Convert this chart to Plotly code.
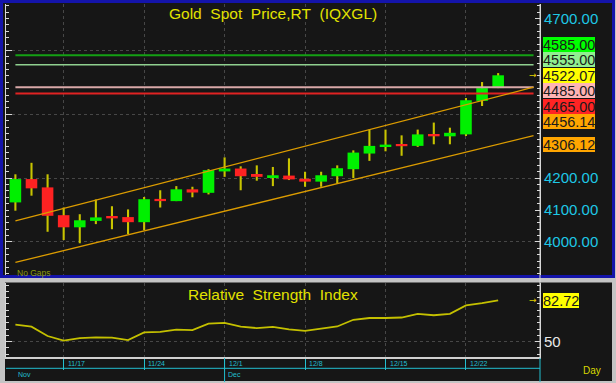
import plotly.graph_objects as go

W, H = 616, 383

# ---------------- data ----------------
dates = ["11/12", "11/13", "11/14", "11/17", "11/18", "11/19", "11/20", "11/21",
         "11/24", "11/25", "11/26", "11/27", "11/28",
         "12/1", "12/2", "12/3", "12/4", "12/5",
         "12/8", "12/9", "12/10", "12/11", "12/12",
         "12/15", "12/16", "12/17", "12/18", "12/19",
         "12/22", "12/23", "12/24"]
opens = [4124, 4197, 4171, 4084, 4046, 4066, 4080, 4078,
         4062, 4135, 4128, 4165, 4154,
         4221, 4230, 4210, 4203, 4208,
         4198, 4189, 4206, 4228, 4277,
         4299, 4306, 4301, 4337, 4331,
         4337, 4442, 4482]
highs = [4212, 4248, 4212, 4108, 4087, 4133, 4112, 4102,
         4141, 4162, 4175, 4173, 4228,
         4265, 4237, 4240, 4235, 4262,
         4220, 4220, 4240, 4287, 4352,
         4352, 4334, 4352, 4374, 4358,
         4451, 4501, 4529]
lows = [4098, 4145, 4032, 4006, 3996, 4056, 4040, 4025,
        4037, 4108, 4128, 4140, 4149,
        4204, 4162, 4192, 4175, 4194,
        4173, 4173, 4183, 4200, 4254,
        4284, 4270, 4298, 4306, 4306,
        4332, 4426, 4482]
closes = [4197, 4168, 4082, 4046, 4068, 4077, 4074, 4062,
          4134, 4128, 4165, 4155, 4225,
          4230, 4206, 4204, 4209, 4196,
          4189, 4209, 4231, 4280, 4301,
          4305, 4300, 4337, 4331, 4342,
          4444, 4482, 4522.07]
rsi = [63.5, 61.9, 54.5, 50.9, 52.9, 53.5, 53.3, 51.3,
       57.4, 57.8, 59.6, 59.2, 64.3,
       64.9, 61.9, 60.8, 61.8, 59.7,
       58.6, 60.4, 62.1, 67.4, 68.8,
       68.8, 69.2, 72.1, 71.0, 72.1,
       78.8, 80.6, 82.72]

week_labels = ["11/17", "11/24", "12/1", "12/8", "12/15", "12/22"]
month_labels = ["Nov", "Dec"]
month_starts = [None, "12/1"]

price_tick_labels = [4000, 4100, 4200, 4700]
rsi_tick_labels = [50]

level_values = [4585.00, 4555.00, 4485.00, 4465.00]
level_line_colors = ["#14a014", "#8fd08f", "#d8a8a8", "#e02222"]
level_line_widths = [2, 1.5, 2, 2]
level_label_bg = ["#00ff00", "#90ee90", "#ffb4b4", "#ff2424"]

channel_upper = [4066.0, 4456.14]   # at first and last candle
channel_lower = [3936.0, 4306.12]

title_text = "Gold\u00a0 Spot\u00a0 Price,RT\u00a0 (IQXGL)"
rsi_title = "Relative\u00a0 Strength\u00a0 Index"

# ---------------- geometry (pixels) ----------------
PX0, PX1 = 6, 540
TOP_Y0, TOP_Y1 = 4, 275
RSI_Y0, RSI_Y1 = 283, 357
X_RANGE = [-0.584, 32.6]
PRICE_RANGE = [3896.6, 4745.4]
RSI_RANGE = [37.85, 96.6]
EXT = 2.2  # extension of drawn lines past last candle (index units)

def fx(p):
    return p / W

def fy(p):
    return 1 - p / H

def price_px(v):
    return TOP_Y0 + (PRICE_RANGE[1] - v) / (PRICE_RANGE[1] - PRICE_RANGE[0]) * (TOP_Y1 - TOP_Y0)

def rsi_px(v):
    return RSI_Y0 + (RSI_RANGE[1] - v) / (RSI_RANGE[1] - RSI_RANGE[0]) * (RSI_Y1 - RSI_Y0)

FONT = "Liberation Sans, Arial, sans-serif"
BG = "#161616"
GRID = "#474747"
CYAN = "#1ec8e6"
DATE_CYAN = "#22bfd0"
YEL = "#e2e200"
WICK = "#c8c400"
GREEN = "#00f000"
RED = "#ff2222"
ORANGE = "#dc9c00"
TICKC = "#d8d8d8"

idx = list(range(len(dates)))
n_last = idx[-1]
week_idx = [dates.index(w) for w in week_labels]

fig = go.Figure()

# wicks
fig.add_trace(go.Bar(x=idx, y=[h - l for h, l in zip(highs, lows)], base=lows,
                     width=0.13, marker=dict(color=WICK, line=dict(width=0)),
                     showlegend=False, hoverinfo="skip", xaxis="x", yaxis="y"))
# bodies
fig.add_trace(go.Bar(x=idx, y=[c - o for o, c in zip(opens, closes)], base=opens,
                     width=0.72,
                     marker=dict(color=[GREEN if c >= o else RED for o, c in zip(opens, closes)],
                                 line=dict(width=0)),
                     showlegend=False, hoverinfo="skip", xaxis="x", yaxis="y"))

# horizontal levels
for v, c, w in zip(level_values, level_line_colors, level_line_widths):
    fig.add_trace(go.Scatter(x=[idx[0], n_last + EXT], y=[v, v], mode="lines",
                             line=dict(color=c, width=w), showlegend=False,
                             hoverinfo="skip", xaxis="x", yaxis="y"))

# channel lines
for ch in (channel_upper, channel_lower):
    slope = (ch[1] - ch[0]) / (n_last - idx[0])
    fig.add_trace(go.Scatter(x=[idx[0], n_last + EXT], y=[ch[0], ch[1] + slope * EXT],
                             mode="lines", line=dict(color=ORANGE, width=1.3),
                             showlegend=False, hoverinfo="skip", xaxis="x", yaxis="y"))

# dummy traces for overlay axes
fig.add_trace(go.Scatter(x=[None], y=[None], xaxis="x", yaxis="y3", showlegend=False, hoverinfo="skip"))
fig.add_trace(go.Scatter(x=[None], y=[None], xaxis="x2", yaxis="y4", showlegend=False, hoverinfo="skip"))

# RSI
fig.add_trace(go.Scatter(x=idx, y=rsi, mode="lines", line=dict(color="#c4c000", width=1.8),
                         showlegend=False, hoverinfo="skip", xaxis="x2", yaxis="y2"))

xdom = [fx(PX0), fx(PX1)]
top_dom = [fy(TOP_Y1), fy(TOP_Y0)]
rsi_dom = [fy(RSI_Y1), fy(RSI_Y0)]

fig.update_layout(
    width=W, height=H, margin=dict(l=0, r=0, t=0, b=0),
    paper_bgcolor="#c4c4c4", plot_bgcolor="rgba(0,0,0,0)",
    barmode="overlay", showlegend=False,
    font=dict(family=FONT),
    xaxis=dict(domain=xdom, range=X_RANGE, anchor="y", tickvals=week_idx,
               showgrid=True, gridcolor=GRID, griddash="dot", gridwidth=1,
               ticks="", showticklabels=False, showline=False, zeroline=False),
    yaxis=dict(domain=top_dom, range=PRICE_RANGE, anchor="x", side="right",
               tickvals=price_tick_labels, tickformat=".2f", ticks="inside", ticklen=5,
               tickcolor=TICKC, tickwidth=1,
               tickfont=dict(size=15, color=CYAN, family=FONT),
               showline=True, linecolor=TICKC, linewidth=1, showgrid=False, zeroline=False,
               minor=dict(dtick=20, tick0=0, ticks="inside", ticklen=3, tickcolor=TICKC, showgrid=False)),
    yaxis3=dict(range=PRICE_RANGE, overlaying="y", anchor="x", side="left",
                dtick=200, tick0=0, ticks="inside", ticklen=6, tickcolor=TICKC,
                showticklabels=False, showline=True, linecolor=TICKC, linewidth=1,
                showgrid=True, gridcolor=GRID, griddash="dot", zeroline=False,
                minor=dict(dtick=20, ticks="inside", ticklen=3, tickcolor=TICKC, showgrid=False)),
    xaxis2=dict(domain=xdom, range=X_RANGE, anchor="y2", tickvals=week_idx,
                showgrid=True, gridcolor=GRID, griddash="dot",
                ticks="outside", ticklen=11, tickcolor=DATE_CYAN, tickwidth=1,
                showticklabels=False, showline=True, linecolor="#d0d0d0", linewidth=2,
                zeroline=False),
    yaxis2=dict(domain=rsi_dom, range=RSI_RANGE, anchor="x2", side="right",
                tickvals=rsi_tick_labels, ticks="inside", ticklen=5, tickcolor=TICKC,
                tickfont=dict(size=15, color="#e8e8e8", family=FONT),
                showline=True, linecolor=TICKC, linewidth=1, showgrid=False, zeroline=False,
                minor=dict(dtick=5, tick0=0, ticks="inside", ticklen=3, tickcolor=TICKC, showgrid=False)),
    yaxis4=dict(range=RSI_RANGE, overlaying="y2", anchor="x2", side="left",
                dtick=50, tick0=0, ticks="inside", ticklen=6, tickcolor=TICKC,
                showticklabels=False, showline=True, linecolor=TICKC, linewidth=1,
                showgrid=True, gridcolor=GRID, griddash="dot", zeroline=False,
                minor=dict(dtick=5, ticks="inside", ticklen=3, tickcolor=TICKC, showgrid=False)),
)

shapes = []
# panels
shapes.append(dict(type="rect", xref="paper", yref="paper", x0=fx(1.5), x1=fx(613.5),
                   y0=fy(276.5), y1=fy(1.5), fillcolor=BG, line=dict(color="#1414aa", width=3),
                   layer="below"))
shapes.append(dict(type="rect", xref="paper", yref="paper", x0=fx(5), x1=fx(612),
                   y0=fy(381), y1=fy(282.5), fillcolor=BG, line=dict(width=0), layer="below"))
# right axis separator
shapes.append(dict(type="line", xref="paper", yref="paper", x0=fx(PX1), x1=fx(PX1),
                   y0=fy(RSI_Y1), y1=fy(4), line=dict(color=TICKC, width=1)))
shapes.append(dict(type="line", xref="paper", yref="paper", x0=fx(PX1), x1=fx(PX1),
                   y0=fy(382), y1=fy(RSI_Y1 + 1), line=dict(color=DATE_CYAN, width=1)))
# date band horizontal line
shapes.append(dict(type="line", xref="paper", yref="paper", x0=fx(PX0), x1=fx(PX1),
                   y0=fy(368.3), y1=fy(368.3), line=dict(color=DATE_CYAN, width=1)))
# month boundary lines
for m, s in zip(month_labels, month_starts):
    if s is not None:
        shapes.append(dict(type="line", xref="x2", yref="paper", x0=dates.index(s), x1=dates.index(s),
                           y0=fy(382), y1=fy(RSI_Y1 + 1), line=dict(color=DATE_CYAN, width=1)))
fig.update_layout(shapes=shapes)

ann = []
ann.append(dict(text=title_text, xref="paper", yref="paper", x=fx(273), y=fy(13),
                xanchor="center", yanchor="middle", showarrow=False,
                font=dict(size=15.5, color=YEL, family=FONT)))
ann.append(dict(text=rsi_title, xref="paper", yref="paper", x=fx(272.5), y=fy(294),
                xanchor="center", yanchor="middle", showarrow=False,
                font=dict(size=15.5, color=YEL, family=FONT)))
ann.append(dict(text="No Gaps", xref="paper", yref="paper", x=fx(15), y=fy(272.5),
                xanchor="left", yanchor="middle", showarrow=False,
                font=dict(size=8.5, color="#8a9a10", family=FONT)))
ann.append(dict(text="Day", xref="paper", yref="paper", x=fx(592), y=fy(370.5),
                xanchor="center", yanchor="middle", showarrow=False,
                font=dict(size=10, color="#d8d800", family=FONT)))

# week labels
for w, i in zip(week_labels, week_idx):
    ann.append(dict(text=w, xref="x2", yref="paper", x=i, y=fy(363.3), xshift=2,
                    xanchor="left", yanchor="middle", showarrow=False,
                    font=dict(size=7, color=DATE_CYAN, family=FONT)))
# month labels
for m, s in zip(month_labels, month_starts):
    if s is None:
        ann.append(dict(text=m, xref="paper", yref="paper", x=fx(PX0 + 10), y=fy(374.5),
                        xanchor="left", yanchor="middle", showarrow=False,
                        font=dict(size=7, color=DATE_CYAN, family=FONT)))
    else:
        ann.append(dict(text=m, xref="x2", yref="paper", x=dates.index(s), y=fy(374.5), xshift=1,
                        xanchor="left", yanchor="middle", showarrow=False,
                        font=dict(size=7, color=DATE_CYAN, family=FONT)))

# right-side price labels, stacked around the last close
labels = [(v, bg) for v, bg in zip(level_values, level_label_bg)]
labels.append((closes[-1], "#ffff00"))
labels.append((channel_upper[1], "#ffa500"))
labels.append((channel_lower[1], "#ffa500"))
labels.sort(key=lambda t: -t[0])
anchor_i = [t[0] for t in labels].index(closes[-1])
GAP = 15.5
pos = [price_px(v) for v, _ in labels]
for i in range(anchor_i - 1, -1, -1):
    pos[i] = min(pos[i], pos[i + 1] - GAP)
for i in range(anchor_i + 1, len(labels)):
    pos[i] = max(pos[i], pos[i - 1] + GAP)
for (v, bg), p in zip(labels, pos):
    ann.append(dict(text=f"{v:.2f}", xref="paper", yref="paper", x=fx(543), y=fy(p),
                    xanchor="left", yanchor="middle", showarrow=False,
                    bgcolor=bg, borderpad=0, borderwidth=0, height=15,
                    font=dict(size=14.5, color="#1a1a1a", family=FONT)))

# RSI last value label
ann.append(dict(text=f"{rsi[-1]:.2f}", xref="paper", yref="paper", x=fx(543), y=fy(rsi_px(rsi[-1])),
                xanchor="left", yanchor="middle", showarrow=False,
                bgcolor="#ffff00", borderpad=0, borderwidth=0, height=15,
                font=dict(size=14.5, color="#1a1a1a", family=FONT)))

# small arrows marking last values
for yy in (price_px(closes[-1]), rsi_px(rsi[-1])):
    ann.append(dict(text="\u2192", xref="paper", yref="paper", x=fx(533), y=fy(yy),
                    xanchor="center", yanchor="middle", showarrow=False,
                    font=dict(size=9, color="#e0d000", family="DejaVu Sans")))

fig.update_layout(annotations=ann)

fig.write_html("out.html")
